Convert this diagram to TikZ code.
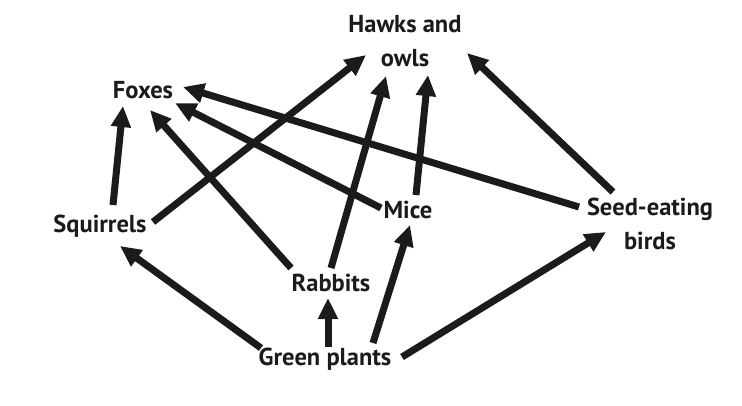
\documentclass[tikz,border=0pt]{standalone}
\usepackage{fontspec}
\setmainfont{PT Sans}
\usetikzlibrary{arrows.meta}
\definecolor{ink}{HTML}{1C1A1B}
\tikzset{
  lbl/.style={font=\bfseries\fontsize{24.5}{34}\selectfont, text=ink, align=center, inner sep=0pt},
  food/.style={draw=ink, line width=7pt, -{Triangle[length=21pt,width=19pt]}}
}
\begin{document}
\begin{tikzpicture}[x=1pt,y=-1pt]
\fill[white] (0,0) rectangle (742,405);
\useasboundingbox (0,0) rectangle (742,405);
\node[lbl] (haw) at (405,41.5) {Hawks and\\owls};
\node[lbl] (fox) at (143,90) {Foxes};
\node[lbl] (sq) at (100,226) {Squirrels};
\node[lbl] (mice) at (408,210) {Mice};
\node[lbl] (seed) at (650,224) {Seed-eating\\birds};
\node[lbl] (rab) at (331,283) {Rabbits};
\node[lbl] (gp) at (325,359) {Green plants};
\draw[food] ([shift={(13,-21)}]sq.center) -- ([shift={(-20,16)}]fox.center);
\draw[food] ([shift={(53,-4)}]sq.center) -- ([shift={(-39,13.5)}]haw.center);
\draw[food] ([shift={(-40,-15)}]rab.center) -- ([shift={(7,20)}]fox.center);
\draw[food] ([shift={(0,-15)}]rab.center) -- ([shift={(-19,34.5)}]haw.center);
\draw[food] ([shift={(-27,-2)}]mice.center) -- ([shift={(32,13)}]fox.center);
\draw[food] ([shift={(8,-15)}]mice.center) -- ([shift={(23,33.5)}]haw.center);
\draw[food] ([shift={(-71,-17)}]seed.center) -- ([shift={(40,-3)}]fox.center);
\draw[food] ([shift={(-37,-32)}]seed.center) -- ([shift={(62,11.5)}]haw.center);
\draw[food] ([shift={(-64,-11)}]gp.center) -- ([shift={(20,20)}]sq.center);
\draw[food] ([shift={(3,-12)}]gp.center) -- ([shift={(-3,15)}]rab.center);
\draw[food] ([shift={(48,-16)}]gp.center) -- ([shift={(2,15)}]mice.center);
\draw[food] ([shift={(77,-2)}]gp.center) -- ([shift={(-44,8)}]seed.center);
\end{tikzpicture}
\end{document}
